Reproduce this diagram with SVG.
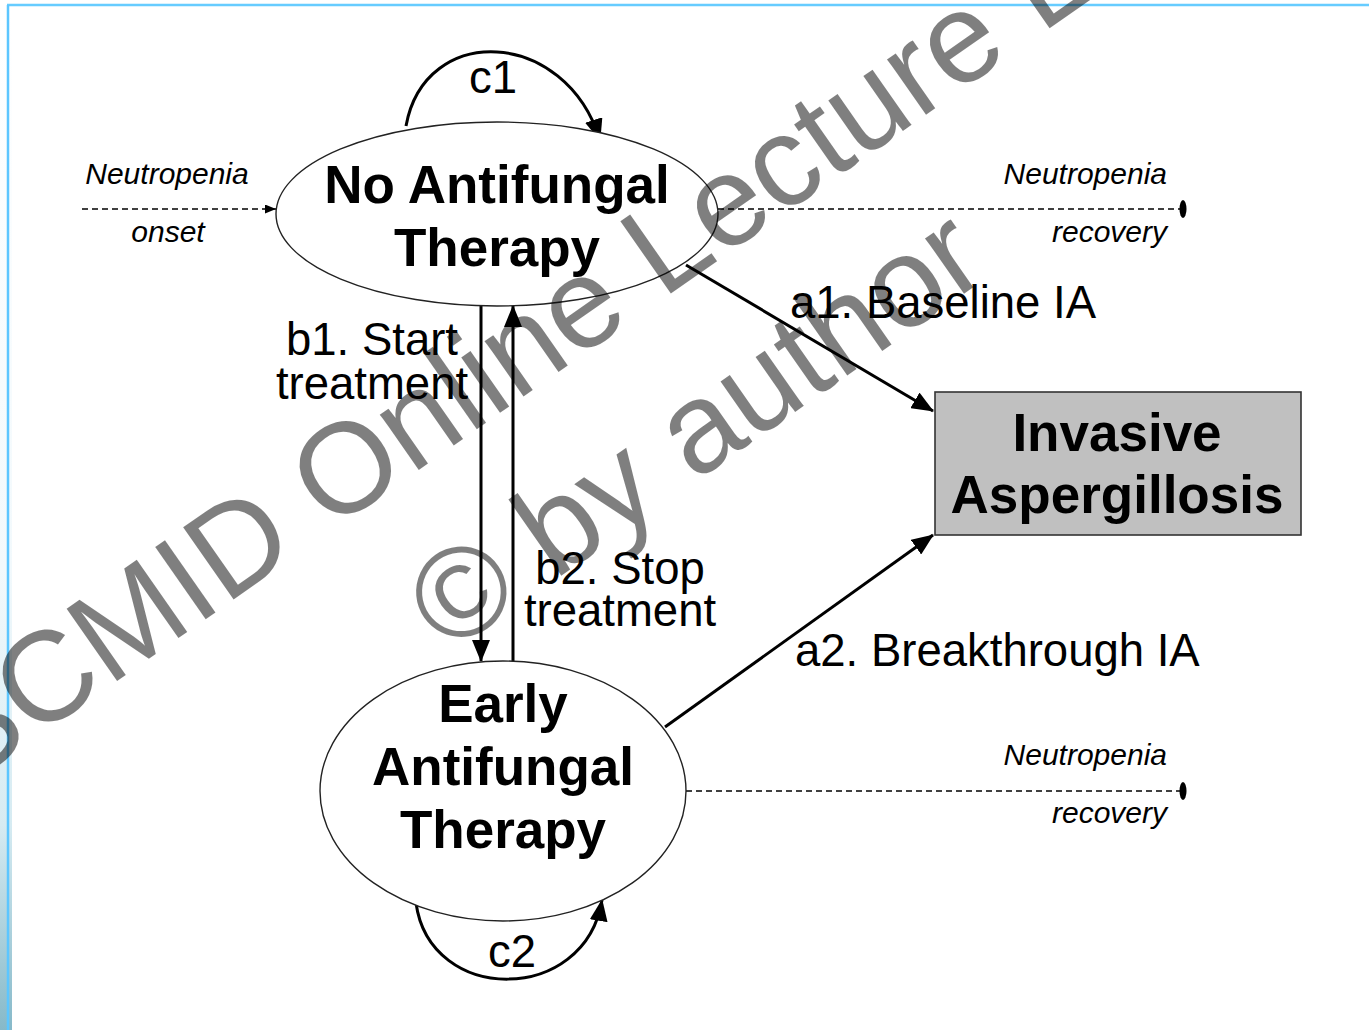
<svg xmlns="http://www.w3.org/2000/svg" width="1369" height="1030" viewBox="0 0 1369 1030">
<defs>
<linearGradient id="strip" x1="0" y1="0" x2="0" y2="1">
<stop offset="0" stop-color="#ffffff"/>
<stop offset="0.55" stop-color="#f2f9fc"/>
<stop offset="0.8" stop-color="#d6ebf2"/>
<stop offset="1" stop-color="#86b9c9"/>
</linearGradient>
<marker id="ah" markerWidth="22" markerHeight="18" refX="21" refY="9" orient="auto" markerUnits="userSpaceOnUse">
<path d="M0,0 L22,9 L0,18 Z" fill="#000"/>
</marker>
<marker id="ahs" markerWidth="11" markerHeight="9" refX="11" refY="4.5" orient="auto" markerUnits="userSpaceOnUse">
<path d="M0,0 L11,4.5 L0,9 Z" fill="#000"/>
</marker>
</defs>
<style>
.node{fill:#fff;stroke:#222;stroke-width:1.4}
.box{fill:#c0c0c0;stroke:#333;stroke-width:1.6}
.bold{font-family:"Liberation Sans",Arial,sans-serif;font-weight:bold;font-size:53px;fill:#000;text-anchor:middle}
.lbl{font-family:"Liberation Sans",Arial,sans-serif;font-size:45.5px;fill:#000}
.it{font-family:"Liberation Sans",Arial,sans-serif;font-style:italic;font-size:30px;fill:#000}
.arr{fill:none;stroke:#000;stroke-width:3;marker-end:url(#ah)}
.dash{fill:none;stroke:#000;stroke-width:1.5;stroke-dasharray:6,4}
.wm{font-family:"Liberation Sans",Arial,sans-serif;font-size:128px;fill:#000;fill-opacity:0.5}
</style>
<rect width="1369" height="1030" fill="#fff"/>
<rect x="0" y="5" width="12" height="1025" fill="url(#strip)"/>
<line x1="7" y1="5" x2="1369" y2="5" stroke="#66ccff" stroke-width="2.5"/>
<line x1="8" y1="5" x2="8" y2="1030" stroke="#5cc6ff" stroke-width="2.5"/>

<g id="connectors">
<path class="dash" d="M82,209 H276" marker-end="url(#ahs)"/>
<path class="dash" d="M718,209 H1183"/>
<ellipse cx="1183" cy="209" rx="3.5" ry="9" fill="#000"/>
<path class="dash" d="M686,791 H1183"/>
<ellipse cx="1183" cy="791" rx="3.5" ry="9" fill="#000"/>
<path class="arr" d="M406,126 C425,22 565,28 600,140"/>
<path class="arr" d="M416,903 C430,1005 585,1005 602,900"/>
<path class="arr" d="M481,306 V661"/>
<path class="arr" d="M513,662 V306"/>
<path class="arr" d="M686,265 L933,411"/>
<path class="arr" d="M665,727 L933,535"/>
<text class="lbl" x="493" y="93" text-anchor="middle" font-size="41">c1</text>
<text class="lbl" x="512" y="967" text-anchor="middle">c2</text>
<text class="lbl" x="372" y="355" text-anchor="middle">b1. Start</text>
<text class="lbl" x="372" y="399" text-anchor="middle">treatment</text>
<text class="lbl" x="620" y="584" text-anchor="middle">b2. Stop</text>
<text class="lbl" x="620" y="626" text-anchor="middle">treatment</text>
<text class="lbl" x="790" y="318">a1. Baseline IA</text>
<text class="lbl" x="795" y="666">a2. Breakthrough IA</text>
<text class="it" x="167" y="184" text-anchor="middle">Neutropenia</text>
<text class="it" x="168" y="242" text-anchor="middle">onset</text>
<text class="it" x="1167" y="184" text-anchor="end">Neutropenia</text>
<text class="it" x="1167" y="242" text-anchor="end">recovery</text>
<text class="it" x="1167" y="765" text-anchor="end">Neutropenia</text>
<text class="it" x="1167" y="823" text-anchor="end">recovery</text>
</g>

<g id="no-antifungal">
<ellipse class="node" cx="497" cy="214" rx="221" ry="92"/>
<text class="bold" x="497" y="203">No Antifungal</text>
<text class="bold" x="497" y="266">Therapy</text>
</g>

<g id="early-antifungal">
<ellipse class="node" cx="503" cy="791" rx="183" ry="130"/>
<text class="bold" x="503" y="722">Early</text>
<text class="bold" x="503" y="785">Antifungal</text>
<text class="bold" x="503" y="848">Therapy</text>
</g>

<g id="invasive-aspergillosis">
<rect class="box" x="935" y="392" width="366" height="143"/>
<text class="bold" x="1117" y="451">Invasive</text>
<text class="bold" x="1117" y="513">Aspergillosis</text>
</g>

<g id="watermark">
<text class="wm" x="-107" y="838" transform="rotate(-35 -107 838)">ESCMID Online Lecture Library</text>
<text class="wm" x="448" y="655" transform="rotate(-35 448 655)">© by author</text>
</g>
</svg>
